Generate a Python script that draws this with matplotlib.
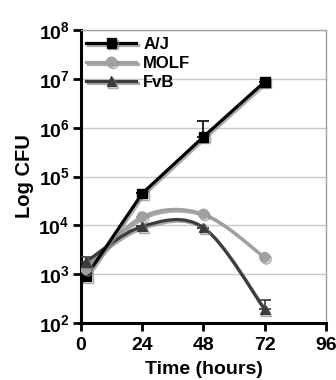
import numpy as np
import matplotlib
matplotlib.use('Agg')
import matplotlib.pyplot as plt
import matplotlib.patheffects as pe
from matplotlib.path import Path
from matplotlib.patches import PathPatch
from matplotlib.ticker import FixedLocator, FuncFormatter, NullLocator

plt.rcParams['font.family'] = ['Liberation Sans', 'DejaVu Sans']
plt.rcParams['font.weight'] = 'bold'
plt.rcParams['mathtext.fontset'] = 'custom'
plt.rcParams['mathtext.rm'] = 'Liberation Sans:bold'
plt.rcParams['mathtext.bf'] = 'Liberation Sans:bold'

hours = [2, 24, 48, 72]
aj = [900, 45000, 650000, 8700000]
aj_err = [300, 0, 750000, 0]
molf = [1250, 15000, 17000, 2200]
molf_err = [0, 0, 0, 0]
fvb = [1800, 9500, 9000, 190]
fvb_err = [400, 0, 0, 110]
labels = ['A/J', 'MOLF', 'FvB']
colors = ['#000000', '#a0a0a0', '#3c3c3c']
markers = ['s', 'o', '^']
smooth = [False, True, True]

shadow = [pe.SimpleLineShadow(offset=(1.2, -1.2), shadow_color='#888888', alpha=0.7), pe.Normal()]


def bezier_path(xs, ys):
    # catmull-rom style smoothing in (x, log y) space, like excel "smoothed line"
    ly = np.log10(ys)
    pts = np.column_stack([xs, ly])
    verts = [pts[0]]
    codes = [Path.MOVETO]
    n = len(pts)
    for i in range(n - 1):
        p0 = pts[max(i - 1, 0)]
        p1 = pts[i]
        p2 = pts[i + 1]
        p3 = pts[min(i + 2, n - 1)]
        c1 = p1 + (p2 - p0) / 6
        c2 = p2 - (p3 - p1) / 6
        verts += [c1, c2, p2]
        codes += [Path.CURVE4] * 3
    verts = np.array(verts)
    verts[:, 1] = 10 ** verts[:, 1]
    return Path(verts, codes)


fig = plt.figure(figsize=(3.36, 3.8), dpi=100)
ax = fig.add_axes([0.241, 0.150, 0.729, 0.771])
ax.set_yscale('log')

ms = 7
lw = 2.3
series = [aj, molf, fvb]
errs = [aj_err, molf_err, fvb_err]
for vals, err, lab, col, mk, sm in zip(series, errs, labels, colors, markers, smooth):
    ax.errorbar(hours, vals, yerr=[np.zeros(len(err)), err], fmt='none', ecolor=col,
                elinewidth=1.2, capsize=4, capthick=1.2, zorder=3)
    if sm:
        patch = PathPatch(bezier_path(hours, vals), fill=False, edgecolor=col, lw=lw, zorder=4)
        patch.set_path_effects(shadow)
        ax.add_patch(patch)
        ax.plot(hours, vals, linestyle='none', marker=mk, ms=ms, color=col, zorder=5,
                path_effects=shadow)
        # legend handle
        ax.plot([], [], '-', marker=mk, ms=ms, lw=lw, color=col, label=lab, path_effects=shadow)
    else:
        ax.plot(hours, vals, '-', marker=mk, ms=ms, lw=lw, color=col, zorder=5,
                label=lab, path_effects=shadow)

ax.set_xlim(0, 96)
ax.set_ylim(1e2, 1e8)
ax.xaxis.set_major_locator(FixedLocator([0, 24, 48, 72, 96]))
ax.yaxis.set_major_locator(FixedLocator([10.0 ** e for e in range(2, 9)]))
ax.yaxis.set_minor_locator(NullLocator())
ax.yaxis.set_major_formatter(FuncFormatter(lambda v, p: r'$\mathbf{10^{%d}}$' % round(np.log10(v))))
ax.yaxis.grid(True, color='#c8c8c8', lw=1)
ax.set_axisbelow(True)

for s in ['left', 'bottom']:
    ax.spines[s].set_linewidth(2.2)
    ax.spines[s].set_color('black')
for s in ['top', 'right']:
    ax.spines[s].set_linewidth(1)
    ax.spines[s].set_color('#a0a0a0')

ax.tick_params(axis='both', which='major', direction='out', length=6, width=2,
               labelsize=14, pad=2)
ax.tick_params(axis='x', pad=4)
ax.set_xlabel('Time (hours)', fontsize=14, fontweight='bold', labelpad=5)
ax.set_ylabel('Log CFU', fontsize=14.5, fontweight='bold', labelpad=3)

leg = ax.legend(loc='upper left', frameon=False, fontsize=12, handlelength=3.0,
                borderaxespad=0.0, handletextpad=0.4, labelspacing=0.25,
                bbox_to_anchor=(-0.005, 1.0))
for t in leg.get_texts():
    t.set_fontweight('bold')

fig.savefig('out.png', dpi=100)
